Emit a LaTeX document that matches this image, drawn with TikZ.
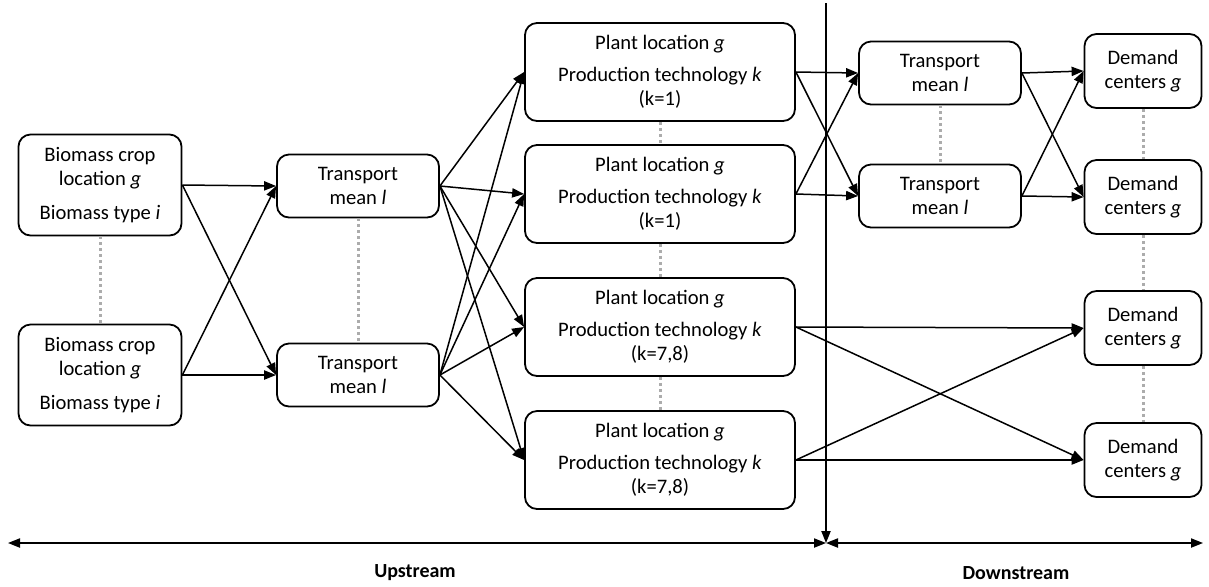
\documentclass[tikz,border=0pt]{standalone}
\usepackage{fontspec}
\setmainfont{Carlito}
\usetikzlibrary{arrows.meta}
\usetikzlibrary{positioning}

\tikzset{
	box/.style={draw, rounded corners=6pt, line width=0.9pt, align=center, inner sep=1pt, font=\fontsize{10.3}{12}\selectfont},
	biobox/.style={box, minimum width=81.5pt, minimum height=50.5pt},
	tranbox/.style={box, minimum width=81pt, minimum height=31.5pt},
	plantbox/.style={box, minimum width=135pt, minimum height=49pt},
	demandbox/.style={box, minimum width=58.5pt, minimum height=37pt},
	link/.style={-{Triangle[length=6pt,width=4.6pt]}, line width=0.75pt},
	dots/.style={draw=gray!65, line width=1.5pt, dash pattern=on 1.5pt off 1.5pt},
	stream/.style={font=\fontsize{10}{12}\selectfont\bfseries}
}

\begin{document}
\begin{tikzpicture}[x=0.5pt, y=-0.5pt]
		\useasboundingbox (0,0) rectangle (1209,586);

		\node[biobox] (bio1) at (100,185) {Biomass crop\\ location \textit{g}\\[5pt] Biomass type \textit{i}};
		\node[biobox] (bio2) at (100,375) {Biomass crop\\ location \textit{g}\\[5pt] Biomass type \textit{i}};

		\node[tranbox] (tra1) at (358,186) {Transport\\ mean \textit{l}};
		\node[tranbox] (tra2) at (358,375) {Transport\\ mean \textit{l}};

		\node[plantbox] (plant1) at (660,72) {Plant location \textit{g}\\[4pt] Production technology \textit{k}\\ (k=1)};
		\node[plantbox] (plant2) at (660,194) {Plant location \textit{g}\\[4pt] Production technology \textit{k}\\ (k=1)};
		\node[plantbox] (plant3) at (660,327) {Plant location \textit{g}\\[4pt] Production technology \textit{k}\\ (k=7,8)};
		\node[plantbox] (plant4) at (660,460) {Plant location \textit{g}\\[4pt] Production technology \textit{k}\\ (k=7,8)};

		\node[tranbox] (trb1) at (940,73) {Transport\\ mean \textit{l}};
		\node[tranbox] (trb2) at (940,196) {Transport\\ mean \textit{l}};

		\node[demandbox] (dem1) at (1143,71) {Demand\\ centers \textit{g}};
		\node[demandbox] (dem2) at (1143,197) {Demand\\ centers \textit{g}};
		\node[demandbox] (dem3) at (1143,328) {Demand\\ centers \textit{g}};
		\node[demandbox] (dem4) at (1143,460) {Demand\\ centers \textit{g}};

		\draw[dots] (bio1) -- (bio2);
		\draw[dots] (tra1) -- (tra2);
		\draw[dots] (plant1) -- (plant2);
		\draw[dots] (plant2) -- (plant3);
		\draw[dots] (plant3) -- (plant4);
		\draw[dots] (trb1) -- (trb2);
		\draw[dots] (dem1) -- (dem2);
		\draw[dots] (dem2) -- (dem3);
		\draw[dots] (dem3) -- (dem4);

		\foreach \s in {bio1,bio2}
			\foreach \t in {tra1,tra2}
				\draw[link] (\s.east) -- (\t.west);
		\foreach \s in {tra1,tra2}
			\foreach \t in {plant1,plant2,plant3,plant4}
				\draw[link] (\s.east) -- (\t.west);
		\foreach \s in {plant1,plant2}
			\foreach \t in {trb1,trb2}
				\draw[link] (\s.east) -- (\t.west);
		\foreach \s in {trb1,trb2}
			\foreach \t in {dem1,dem2}
				\draw[link] (\s.east) -- (\t.west);
		\foreach \s in {plant3,plant4}
			\foreach \t in {dem3,dem4}
				\draw[link] (\s.east) -- (\t.west);

		\coordinate (top) at (826,3);
		\coordinate (split) at (826,543);
		\coordinate (leftend) at (8,543);
		\coordinate (rightend) at (1203,543);
		\draw[link] (top) -- (split);
		\draw[link, {Triangle[length=6pt,width=4.6pt]}-{Triangle[length=6pt,width=4.6pt]}] (leftend) -- (split);
		\draw[link, {Triangle[length=6pt,width=4.6pt]}-{Triangle[length=6pt,width=4.6pt]}] (split) -- (rightend);

		\node[stream] (up) at (415,573) {Upstream};
		\node[stream] (down) at (1016,573) {Downstream};
	\end{tikzpicture}
\end{document}
